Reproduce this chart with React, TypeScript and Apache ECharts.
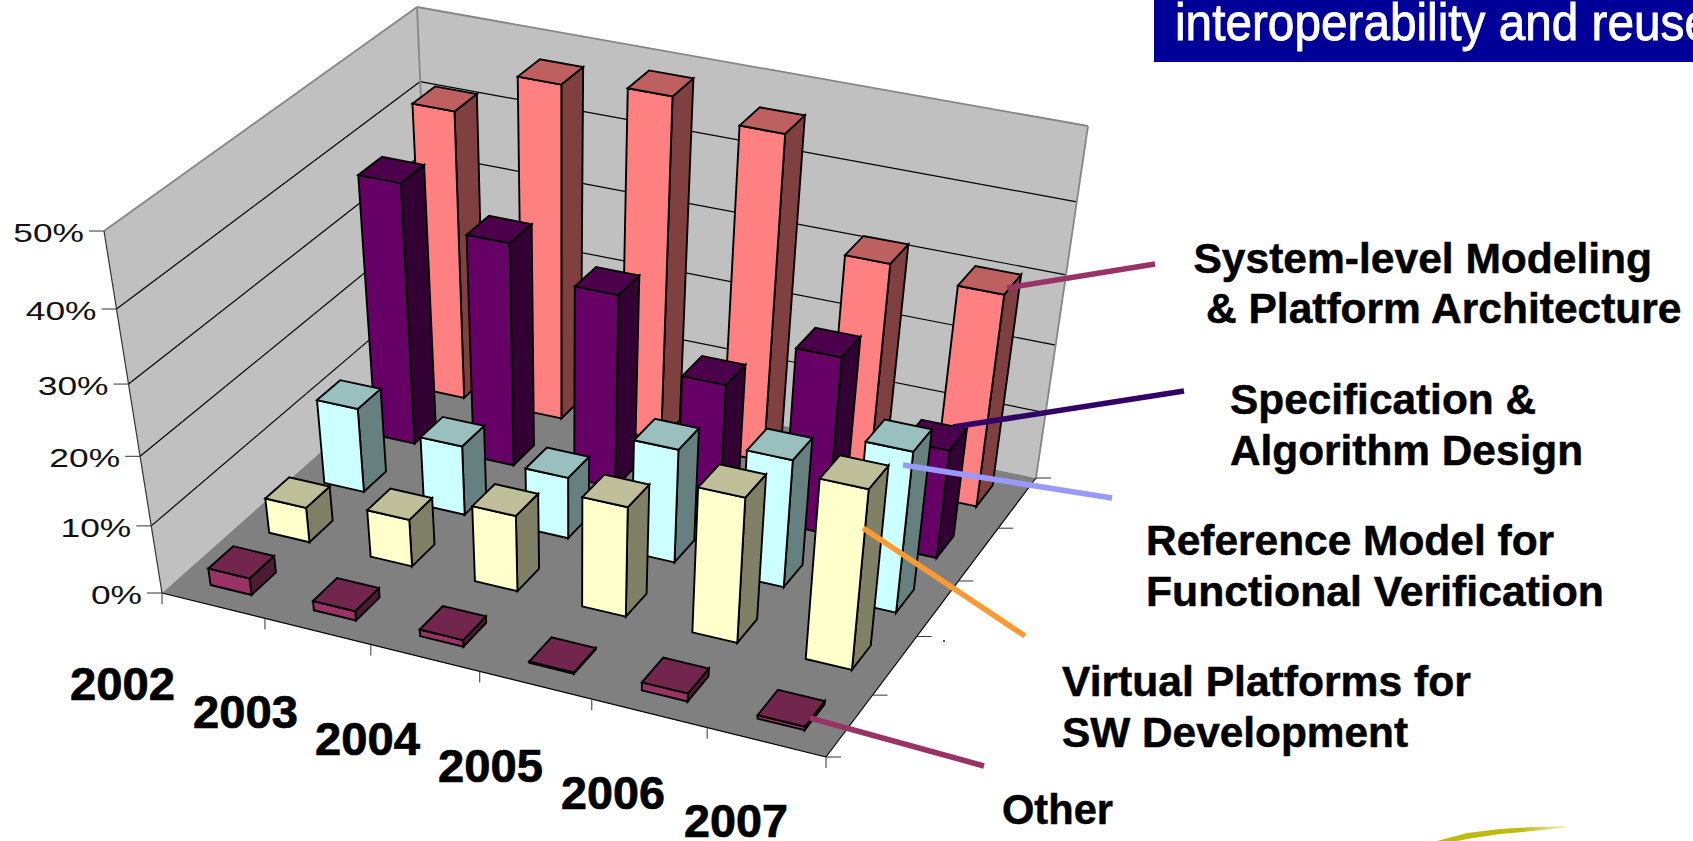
import React, { useEffect, useRef } from "react";
import * as echarts from "echarts";

const years = ["2002", "2003", "2004", "2005", "2006", "2007"];
const percentTicks = ["0%", "10%", "20%", "30%", "40%", "50%"];
const otherValues = [2.5, 1.4, 1, 0.2, 1.2, 0.5];
const virtualValues = [5.2, 7, 11.2, 16.1, 21.1, 25.9];
const referenceValues = [12.5, 10.3, 9.1, 16.7, 18.7, 23.4];
const specificationValues = [37.8, 32.5, 28.3, 18.7, 25.9, 16];
const systemValues = [41.7, 47.9, 49, 46.8, 32.2, 31];

const W = 1693;
const H = 841;
const GRID = { left: 100, top: 100, width: 600, height: 500 };

type P = [number, number];
function quad(p00: P, p10: P, p11: P, p01: P) {
  const [x0, y0] = p00, [x1, y1] = p10, [x2, y2] = p11, [x3, y3] = p01;
  const dx1 = x1 - x2, dx2 = x3 - x2, sx = x0 - x1 + x2 - x3;
  const dy1 = y1 - y2, dy2 = y3 - y2, sy = y0 - y1 + y2 - y3;
  const den = dx1 * dy2 - dx2 * dy1;
  const g = (sx * dy2 - dx2 * sy) / den;
  const h = (dx1 * sy - sx * dy1) / den;
  const a = x1 - x0 + g * x1, b = x3 - x0 + h * x3;
  const d = y1 - y0 + g * y1, e = y3 - y0 + h * y3;
  return (u: number, v: number): P => {
    const w = g * u + h * v + 1;
    return [(a * u + b * v + x0) / w, (d * u + e * v + y0) / w];
  };
}
const floorMap = quad([162, 593], [826, 757], [1036, 478], [432, 353]);
const topMap = quad([104, 231], [857, 387], [1088, 126], [417, 7]);
const FORE = 0.91;
function project(u: number, v: number, h: number): P {
  const a = floorMap(u, v), b = topMap(u, v);
  const t = (h * FORE) / (1 + h * (FORE - 1));
  return [a[0] + (b[0] - a[0]) * t, a[1] + (b[1] - a[1]) * t];
}

const DEPTHS = 5;
const BAR_U = 0.2;
const BAR_V = 0.21;
const LINE = "#000000";

function poly(points: P[], fill: string, stroke: string, lineWidth: number) {
  return { type: "polygon", shape: { points }, style: { fill, stroke, lineWidth, lineJoin: "miter" }, silent: true };
}
function seg(a: P, b: P, stroke: string, lineWidth: number) {
  return {
    type: "line",
    shape: { x1: a[0], y1: a[1], x2: b[0], y2: b[1] },
    style: { stroke, lineWidth, fill: "none" },
    silent: true,
  };
}

function barSeries(name: string, values: number[], depth: number, shift: number, front: string, top: string, side: string) {
  return {
    type: "custom",
    name,
    coordinateSystem: "cartesian2d",
    data: values.map((v, i) => [i, v]),
    encode: { x: 0, y: 1 },
    clip: false,
    silent: true,
    renderItem: (_p: any, api: any) => {
      const pt = api.coord([api.value(0), api.value(1)]);
      const slot = api.size([1, 0])[0] / GRID.width;
      const cu = (pt[0] - GRID.left) / GRID.width + shift;
      const h = (GRID.top + GRID.height - pt[1]) / GRID.height;
      const cv = (depth + 0.5) / DEPTHS;
      const du = slot * BAR_U, dv = BAR_V / DEPTHS;
      const u0 = cu - du, u1 = cu + du, v0 = cv - dv, v1 = cv + dv;
      const f00 = project(u0, v0, 0), f10 = project(u1, v0, 0), f11 = project(u1, v1, 0);
      const t00 = project(u0, v0, h), t10 = project(u1, v0, h), t11 = project(u1, v1, h), t01 = project(u0, v1, h);
      return {
        type: "group",
        children: [
          poly([f10, f11, t11, t10], side, LINE, 1.9),
          poly([f00, f10, t10, t00], front, LINE, 1.9),
          poly([t00, t10, t11, t01], top, LINE, 1.9),
        ],
      };
    },
  };
}

function frameSeries() {
  return {
    type: "custom",
    name: "frame",
    coordinateSystem: "cartesian2d",
    data: [[0, 0]],
    encode: { x: 0, y: 1 },
    clip: false,
    silent: true,
    renderItem: () => {
      const kids: any[] = [];
      const wallEdge = "#868686";
      kids.push(poly([project(0, 0, 0), project(0, 1, 0), project(0, 1, 1), project(0, 0, 1)], "#C0C0C0", "none", 0));
      kids.push(poly([project(0, 1, 0), project(1, 1, 0), project(1, 1, 1), project(0, 1, 1)], "#C0C0C0", "none", 0));
      kids.push(poly([project(0, 0, 0), project(1, 0, 0), project(1, 1, 0), project(0, 1, 0)], "#808080", "none", 0));
      percentTicks.forEach((_, i) => {
        const h = i / 5;
        if (i > 0 && i < 5) {
          kids.push(seg(project(0, 0, h), project(0, 1, h), "#000000", 1.2));
          kids.push(seg(project(0, 1, h), project(1, 1, h), "#000000", 1.2));
        }
        const a = project(0, 0, h);
        kids.push(seg([a[0] - 15, a[1]], a, "#333333", 1));
      });
      kids.push(seg(project(0, 0, 1), project(0, 1, 1), wallEdge, 1.8));
      kids.push(seg(project(0, 1, 1), project(1, 1, 1), wallEdge, 1.8));
      kids.push(seg(project(0, 1, 0), project(0, 1, 1), wallEdge, 1.8));
      kids.push(seg(project(1, 1, 0), project(1, 1, 1), wallEdge, 1.8));
      kids.push(seg(project(0, 0, 0), project(0, 0, 1), "#333333", 1.2));
      kids.push(seg(project(0, 0, 0), project(1, 0, 0), "#000000", 1.2));
      kids.push(seg(project(1, 0, 0), project(1, 1, 0), "#000000", 1.2));
      for (let i = 0; i <= years.length; i++) {
        const a = project(i / years.length, 0, 0);
        kids.push(seg(a, [a[0], a[1] + 11], "#333333", 1));
      }
      for (let k = 0; k <= DEPTHS; k++) {
        const a = project(1, k / DEPTHS, 0);
        kids.push(seg(a, [a[0] + 15, a[1]], "#333333", 1));
      }
      return { type: "group", children: kids };
    },
  };
}

const measure = document.createElement("canvas").getContext("2d")!;
function fitText(
  text: string,
  font: string,
  left: number,
  right: number,
  baseline: number,
  fontSize: number,
  fill = "#000",
  heavy = 0
) {
  measure.font = font;
  const natural = measure.measureText(text).width;
  return {
    type: "text",
    x: left,
    y: baseline - fontSize * 0.36 + 1.5,
    scaleX: (right - left) / natural,
    z: 100,
    silent: true,
    style: {
      text,
      font,
      fill,
      textAlign: "left",
      verticalAlign: "middle",
      stroke: heavy ? fill : "none",
      lineWidth: heavy,
    },
  };
}

const BOLD = 'bold 42px "Liberation Sans"';
const calloutTexts: [string, number, number, number][] = [
  ["System-level Modeling", 1193.5, 1652, 272],
  ["& Platform Architecture", 1206, 1683, 322],
  ["Specification &", 1230, 1536, 413],
  ["Algorithm Design", 1230, 1583, 464],
  ["Reference Model for", 1146, 1554, 554],
  ["Functional Verification", 1146, 1604, 605],
  ["Virtual Platforms for", 1062, 1471, 695],
  ["SW Development", 1062, 1408, 746],
  ["Other", 1002, 1113, 823],
];
const yearSpots: [number, number, number][] = [
  [70, 175, 699],
  [193, 298, 727],
  [315, 420, 754],
  [438, 543, 781],
  [561, 665, 808],
  [684, 788, 836],
];
const leaders: [number, number, number, number, string][] = [
  [1007, 288, 1155, 264, "#993366"],
  [953, 427, 1184, 391, "#330066"],
  [903, 465, 1112, 498, "#9999FF"],
  [863, 528, 1025, 636, "#FF9933"],
  [810, 718, 984, 766, "#993366"],
];

function graphics() {
  const out: any[] = [];
  out.push({ type: "rect", shape: { x: 1154, y: 0, width: 540, height: 62 }, style: { fill: "#000099" }, z: 90, silent: true });
  out.push(fitText("interoperability and reuse", '52px "Liberation Sans"', 1175, 1711, 40, 52, "#FFFFFF", 0.9));
  calloutTexts.forEach(([t, l, r, b]) => out.push(fitText(t, BOLD, l, r, b, 42, "#000", 0.5)));
  years.forEach((y, i) => {
    const [l, r, b] = yearSpots[i];
    out.push(fitText(y, 'bold 46px "Liberation Sans"', l, r, b, 46, "#000", 0.7));
  });
  percentTicks.forEach((t, i) => {
    const a = project(0, 0, i / 5);
    const font = '26px "Liberation Sans"';
    measure.font = font;
    const wd = measure.measureText(t).width * 1.36;
    out.push(fitText(t, font, a[0] - 20 - wd, a[0] - 20, a[1] + 10, 26, "#111111"));
  });
  leaders.forEach(([x1, y1, x2, y2, c]) =>
    out.push({ type: "line", shape: { x1, y1, x2, y2 }, style: { stroke: c, lineWidth: 5.5 }, z: 95, silent: true })
  );
  out.push({ type: "rect", shape: { x: 943, y: 640, width: 2, height: 2 }, style: { fill: "#555555" }, z: 95, silent: true });
  out.push({
    type: "polygon",
    z: 95,
    silent: true,
    shape: {
      points: [
        [1437, 841], [1467, 833], [1500, 829], [1533, 827], [1565, 826],
        [1565, 827.5], [1533, 831], [1500, 834], [1473, 838], [1457, 841],
      ],
    },
    style: {
      fill: new echarts.graphic.LinearGradient(0, 0, 1, 0, [
        { offset: 0, color: "#BDBA10" },
        { offset: 0.65, color: "#BDBA10" },
        { offset: 1, color: "#EFEEC0" },
      ]),
    },
  });
  return out;
}

export default function App() {
  const ref = useRef<HTMLDivElement>(null);
  useEffect(() => {
    document.body.style.margin = "0";
    const chart = echarts.init(ref.current!, undefined, { renderer: "svg" });
    chart.setOption({
      animation: false,
      backgroundColor: "#FFFFFF",
      grid: { left: GRID.left, top: GRID.top, width: GRID.width, height: GRID.height, show: false },
      xAxis: { type: "category", data: years, show: false },
      yAxis: { type: "value", min: 0, max: 50, interval: 10, show: false },
      series: [
        frameSeries(),
        barSeries("System-level Modeling & Platform Architecture", systemValues, 4, 0, "#FF8080", "#BF6060", "#804040"),
        barSeries("Specification & Algorithm Design", specificationValues, 3, 0, "#660066", "#4C004C", "#330033"),
        barSeries("Reference Model for Functional Verification", referenceValues, 2, 0.002, "#CCFFFF", "#99BFBF", "#668080"),
        barSeries("Virtual Platforms for SW Development", virtualValues, 1, 0.002, "#FFFFCC", "#BFBF99", "#808066"),
        barSeries("Other", otherValues, 0, 0.001, "#993366", "#73264D", "#4D1A33"),
      ],
      graphic: { elements: graphics() },
    });
    return () => chart.dispose();
  }, []);
  return <div ref={ref} style={{ position: "fixed", left: 0, top: 0, width: W, height: H, overflow: "hidden" }} />;
}
